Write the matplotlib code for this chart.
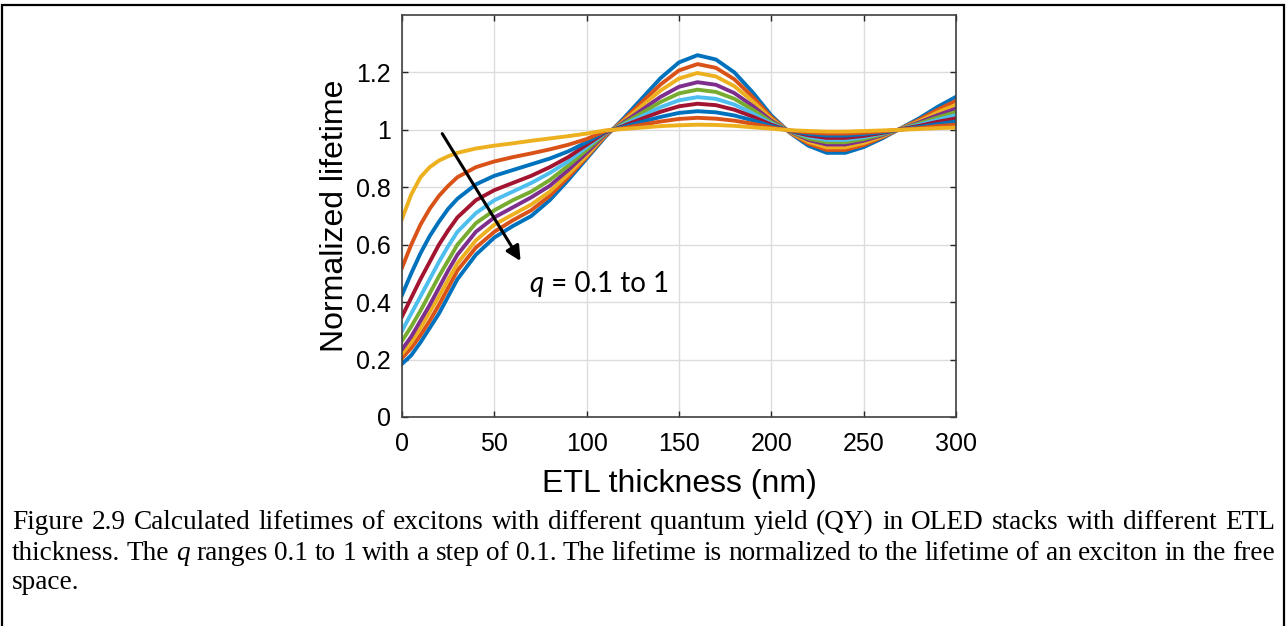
import matplotlib
matplotlib.use("Agg")
import matplotlib.pyplot as plt
from matplotlib.patches import Rectangle

# ETL thickness (nm) and normalized lifetime for q = 0.1 ... 1
thickness = [0, 5, 10, 15, 20, 25, 30, 40, 50, 60, 70, 80, 90, 100, 110,
             120, 130, 140, 150, 160, 170, 180, 190, 200, 210, 220, 230, 240, 250, 260, 270, 280, 290, 300]

c1 = [0.185, 0.215, 0.26, 0.31, 0.36, 0.42, 0.48, 0.565, 0.625, 0.665, 0.70, 0.755, 0.825, 0.90, 0.975,
      1.04, 1.11, 1.18, 1.235, 1.26, 1.245, 1.20, 1.13, 1.05, 0.99, 0.945, 0.92, 0.92, 0.94, 0.97, 1.005, 1.04, 1.08, 1.115]
c2 = [0.205, 0.24, 0.285, 0.335, 0.39, 0.45, 0.51, 0.59, 0.645, 0.685, 0.72, 0.77, 0.835, 0.905, 0.978,
      1.035, 1.097, 1.158, 1.207, 1.229, 1.216, 1.176, 1.114, 1.044, 0.991, 0.952, 0.930, 0.930, 0.947, 0.974, 1.004, 1.035, 1.070, 1.101]
c3 = [0.22, 0.26, 0.31, 0.365, 0.42, 0.478, 0.535, 0.615, 0.67, 0.705, 0.74, 0.785, 0.845, 0.91, 0.982,
      1.030, 1.084, 1.137, 1.179, 1.198, 1.186, 1.152, 1.099, 1.038, 0.992, 0.958, 0.939, 0.939, 0.954, 0.977, 1.004, 1.030, 1.061, 1.087]
c4 = [0.235, 0.28, 0.335, 0.39, 0.45, 0.51, 0.565, 0.645, 0.695, 0.73, 0.765, 0.805, 0.86, 0.92, 0.984,
      1.026, 1.070, 1.115, 1.150, 1.166, 1.157, 1.128, 1.083, 1.032, 0.994, 0.965, 0.949, 0.949, 0.962, 0.981, 1.003, 1.026, 1.051, 1.074]
c5 = [0.265, 0.315, 0.37, 0.43, 0.49, 0.545, 0.60, 0.675, 0.72, 0.755, 0.785, 0.825, 0.875, 0.93, 0.987,
      1.022, 1.059, 1.097, 1.127, 1.140, 1.132, 1.108, 1.070, 1.027, 0.995, 0.970, 0.957, 0.957, 0.968, 0.984, 1.003, 1.022, 1.043, 1.062]
c6 = [0.30, 0.36, 0.42, 0.48, 0.54, 0.595, 0.645, 0.71, 0.755, 0.785, 0.815, 0.85, 0.89, 0.94, 0.989,
      1.018, 1.048, 1.079, 1.103, 1.114, 1.108, 1.088, 1.057, 1.022, 0.996, 0.976, 0.965, 0.965, 0.974, 0.987, 1.002, 1.018, 1.035, 1.051]
c7 = [0.35, 0.415, 0.48, 0.54, 0.60, 0.65, 0.695, 0.755, 0.79, 0.815, 0.84, 0.87, 0.905, 0.948, 0.991,
      1.014, 1.039, 1.063, 1.082, 1.091, 1.086, 1.070, 1.046, 1.018, 0.996, 0.981, 0.972, 0.972, 0.979, 0.989, 1.002, 1.014, 1.028, 1.040]
c8 = [0.425, 0.50, 0.57, 0.63, 0.68, 0.725, 0.76, 0.81, 0.84, 0.86, 0.88, 0.90, 0.925, 0.957, 0.994,
      1.010, 1.028, 1.045, 1.059, 1.065, 1.061, 1.050, 1.033, 1.013, 0.997, 0.986, 0.980, 0.980, 0.985, 0.992, 1.001, 1.010, 1.020, 1.029]
c9 = [0.52, 0.60, 0.67, 0.725, 0.77, 0.805, 0.835, 0.87, 0.89, 0.905, 0.918, 0.932, 0.948, 0.968, 0.996,
      1.006, 1.018, 1.029, 1.038, 1.042, 1.039, 1.032, 1.021, 1.008, 0.998, 0.991, 0.987, 0.987, 0.990, 0.995, 1.001, 1.006, 1.013, 1.018]
c10 = [0.69, 0.775, 0.835, 0.87, 0.893, 0.908, 0.92, 0.935, 0.945, 0.953, 0.962, 0.97, 0.978, 0.987, 0.998,
       1.003, 1.008, 1.013, 1.016, 1.018, 1.017, 1.014, 1.009, 1.004, 0.999, 0.996, 0.994, 0.994, 0.996, 0.998, 1.000, 1.003, 1.006, 1.008]

curves = [c1, c2, c3, c4, c5, c6, c7, c8, c9, c10]

# matlab default colour order
colors = ['#0072BD', '#D95319', '#EDB120', '#7E2F8E', '#77AC30',
          '#4DBEEE', '#A2142F', '#0072BD', '#D95319', '#EDB120']

caption = [
    "Figure 2.9 Calculated lifetimes of excitons with different quantum yield (QY) in OLED stacks with different ETL",
    "thickness. The q ranges 0.1 to 1 with a step of 0.1. The lifetime is normalized to the lifetime of an exciton in the free",
    "space.",
]

W, H = 1287, 626
fig = plt.figure(figsize=(W / 100, H / 100), dpi=100)
plt.rcParams['font.family'] = ['Liberation Sans', 'DejaVu Sans']

ax = fig.add_axes([402 / W, 1 - 417 / H, 554 / W, 402 / H])
for y, c in zip(curves, colors):
    ax.plot(thickness, y, color=c, lw=2.8, solid_joinstyle='round')

ax.set_xlim(0, 300)
ax.set_ylim(0, 1.4)
ax.set_xticks(range(0, 301, 50))
ax.set_yticks([0, 0.2, 0.4, 0.6, 0.8, 1.0, 1.2])
ax.set_yticklabels(['0', '0.2', '0.4', '0.6', '0.8', '1', '1.2'])
ax.grid(True, color='#dcdcdc', lw=1)
ax.set_axisbelow(True)
ax.tick_params(direction='in', length=4, width=1, color='#262626', labelsize=18,
               top=True, right=True, pad=8)
ax.tick_params(axis='x', pad=11)
for s in ax.spines.values():
    s.set_color('#404040')
    s.set_linewidth(1.2)
ax.set_xlabel('ETL thickness (nm)', fontsize=23, labelpad=9)
ax.set_ylabel('Normalized lifetime', fontsize=23, labelpad=4)

# arrow + annotation
ax.annotate('', xy=(65, 0.535), xytext=(21, 0.995),
            arrowprops=dict(arrowstyle='-|>', color='black', lw=2.2, mutation_scale=22))
qt = ax.text(69, 0.462, 'q', fontsize=20, family='Lato', style='italic', va='center')
ax.annotate(' = 0.1 to 1', xy=(1, 0), xycoords=qt, fontsize=20, family='Lato', va='bottom')

# outer frame
fig.patches.append(Rectangle((2 / W, -0.1), 1282 / W, 1.1 - 5 / H, transform=fig.transFigure,
                             fill=False, edgecolor='black', lw=1.6))

# caption, justified for the first two lines
fig.canvas.draw()
r = fig.canvas.get_renderer()
baselines = [529, 560, 589]
x0, x1 = 12 / W, 1275 / W
for i, line in enumerate(caption):
    arts = []
    for w in line.split(' '):
        st = 'italic' if w == 'q' else 'normal'
        arts.append(fig.text(0, 1 - baselines[i] / H, w, fontsize=19.6, family='Liberation Serif',
                             style=st, va='baseline'))
    ws = [a.get_window_extent(r).width / W for a in arts]
    if i < 2:
        gap = (x1 - x0 - sum(ws)) / (len(ws) - 1)
    else:
        gap = 0
    x = x0
    for a, w in zip(arts, ws):
        a.set_x(x)
        x += w + gap

fig.savefig('out.png', dpi=100)
